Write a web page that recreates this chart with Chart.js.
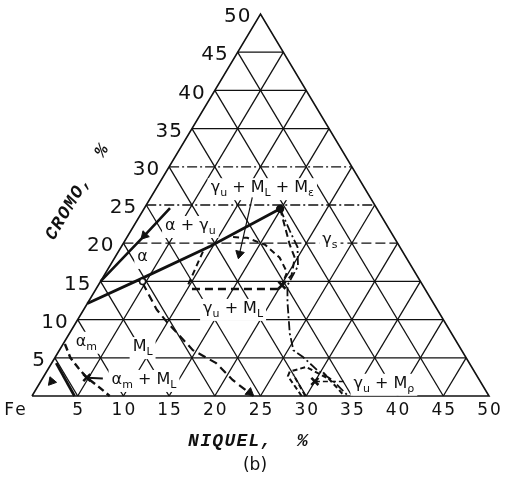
<!DOCTYPE html>
<html lang="es">
<head>
<meta charset="utf-8">
<title>Diagrama Fe-Cr-Ni</title>
<script src="https://cdn.jsdelivr.net/npm/chart.js@4.4.1/dist/chart.umd.min.js"></script>
<style>
  html, body { margin: 0; padding: 0; background: #fff; }
  #wrap { width: 508px; height: 481px; position: relative; }
</style>
</head>
<body>
<div id="wrap"><canvas id="diagrama"></canvas></div>
<script>
// Marcas de los ejes (% en peso)
const marcasNiquel = [5, 10, 15, 20, 25, 30, 35, 40, 45, 50];
const marcasCromo = [5, 10, 15, 20, 25, 30, 35, 40, 45, 50];
// Red triangular cada 5 %
const red = [5, 10, 15, 20, 25, 30, 35, 40, 45];
const redDiscontinua = [20, 25, 30];

// Límites de fase, pares [Ni, Cr]
const limiteAlfa = [[0, 15], [1.8, 21], [2.8, 24.6]];
const limiteGamma = [[0, 12.1], [4.2, 15.3], [9.7, 19.6], [14.9, 24.5]];
const limiteML = [[4.7, 14.8], [8, 11.3], [9.9, 9.7], [14.6, 6], [18, 4.3], [20.9, 2.1], [24.2, 0]];
const lenteIzq = [[9.8, 14.6], [9.2, 19.3]];
const lenteInt = [[11.6, 20.8], [13.2, 20.7], [15.6, 19.8], [18.05, 18.1], [19.8, 16.2], [20.1, 14.5]];
const lenteExt = [[14.9, 24.5], [18.3, 19.8], [19.7, 18.1], [20.5, 15.8], [20.1, 14.5]];
const limiteInf = [[10.5, 14], [20.3, 14]];
const limiteGammaS = [[14.9, 24.5], [17.5, 21.5], [19.3, 19.5], [20.6, 17], [20.7, 14.5], [21.8, 12.3],
  [24.1, 8.2], [25.6, 6.0], [27.1, 5.1], [29.5, 3.4], [31.8, 2.1], [34.6, 0]];
const limiteAlfaM = [[0.5, 4.3], [4.65, 0]];
const limiteMs = [[0.2, 6.8], [1.7, 5.0], [3.2, 3.7], [4.8, 2.4], [6.7, 1.2], [8.5, 0]];
const zonaMp1 = [[29.5, 0], [26.7, 2.6], [26.6, 3.2], [28.1, 3.8], [31, 2.4]];
const zonaMp2 = [[29.9, 0], [27.2, 2.8]];
const zonaMp3 = [[30.3, 3.1], [33.8, 0.3]];
const guiaML = [[11.1, 26.0], [13.4, 18.6]];
const guiaAlfaM = [[4.8, 2.4], [6.6, 2.3]];
const guiaMp = [[30.0, 1.9], [33.4, 1.9]];

// Puntos singulares
const puntoFinal = [[14.9, 24.5]];
const puntoAbierto = [[4.6, 15.0]];
const cruces = [[20.1, 14.5], [4.8, 2.4], [30.0, 1.9]];
const flechas = [[1.8, 21], [13.4, 18.6], [23.6, 0.45], [1.2, 1.9]];

// coordenadas ternarias -> plano (x = Ni + Cr/2, y = Cr)
const tern = ([ni, cr]) => ({ x: ni + cr / 2, y: cr });

function linea(puntos, estilo) {
  return Object.assign({
    data: puntos.map(tern),
    showLine: true,
    borderColor: '#111',
    backgroundColor: '#111',
    borderWidth: 1.3,
    pointRadius: 0,
    fill: false,
    clip: false,
    order: 3
  }, estilo);
}

const conjuntos = [];

// contorno y red
conjuntos.push(linea([[0, 0], [50, 0], [0, 50], [0, 0]], { borderWidth: 1.6 }));
red.forEach(c => {
  const estilo = redDiscontinua.includes(c) ? { borderDash: c === 20 ? [10, 4] : [10, 3, 2, 3] } : {};
  conjuntos.push(linea([[0, c], [50 - c, c]], estilo));
});
red.forEach(n => conjuntos.push(linea([[n, 0], [n, 50 - n]])));
red.forEach(s => conjuntos.push(linea([[s, 0], [0, s]])));

// capa de rótulos (fondo blanco sobre la red)
conjuntos.push({ data: [], capaRotulos: true, order: 2 });

// límites de fase
const fase = { order: 1 };
conjuntos.push(linea(limiteAlfa, { ...fase, borderWidth: 2.6 }));
conjuntos.push(linea(limiteGamma, { ...fase, borderWidth: 2.8 }));
conjuntos.push(linea(limiteML, { ...fase, borderWidth: 2.2, borderDash: [8, 5] }));
conjuntos.push(linea(lenteIzq, { ...fase, borderWidth: 2, borderDash: [6, 4] }));
conjuntos.push(linea(lenteInt, { ...fase, borderWidth: 2, borderDash: [6, 4] }));
conjuntos.push(linea(lenteExt, { ...fase, borderWidth: 2, borderDash: [7, 4] }));
conjuntos.push(linea(limiteInf, { ...fase, borderWidth: 2.4, borderDash: [8, 5] }));
conjuntos.push(linea(limiteGammaS, { ...fase, borderWidth: 1.8, borderDash: [9, 3, 2, 3] }));
conjuntos.push(linea(limiteAlfaM, { ...fase, borderWidth: 2.8 }));
conjuntos.push(linea(limiteMs, { ...fase, borderWidth: 2.4, borderDash: [7, 4] }));
conjuntos.push(linea(zonaMp1, { ...fase, borderWidth: 2, borderDash: [5, 3] }));
conjuntos.push(linea(zonaMp2, { ...fase, borderWidth: 2, borderDash: [5, 3] }));
conjuntos.push(linea(zonaMp3, { ...fase, borderWidth: 2, borderDash: [5, 3] }));
conjuntos.push(linea(guiaML, { ...fase, borderWidth: 1.2 }));
conjuntos.push(linea(guiaAlfaM, { ...fase, borderWidth: 2 }));
conjuntos.push(linea(guiaMp, { ...fase, borderWidth: 1.6, borderDash: [5, 3] }));

// marcadores
const marca = { showLine: false, order: 0 };
conjuntos.push(linea(puntoFinal, { ...marca, pointRadius: 3.5, pointStyle: 'circle' }));
conjuntos.push(linea(puntoAbierto, { ...marca, pointRadius: 3, pointStyle: 'circle', backgroundColor: '#fff', borderWidth: 1.5 }));
conjuntos.push(linea(cruces, { ...marca, pointRadius: 5, pointStyle: 'crossRot', borderWidth: 2.6 }));
conjuntos.push(linea(flechas, { ...marca, pointRadius: 5, pointStyle: 'triangle', borderWidth: 1, pointRotation: [223, 193, 129, 220] }));

const FUENTE = '16px "DejaVu Sans"';
const FUENTE_SUB = '11px "DejaVu Sans"';

const rotulos = [
  { pos: [11.6, 27.2], partes: [['γ'], ['u', 1], [' + M'], ['L', 1], [' + M'], ['ε', 1]] },
  { pos: [6.2, 22.25], partes: [['α'], [' + '], ['γ'], ['u', 1]] },
  { pos: [3.0, 18.2], partes: [['α']] },
  { pos: [22.4, 20.4], partes: [['γ'], ['s', 1]] },
  { pos: [16.3, 11.4], partes: [['γ'], ['u', 1], [' + M'], ['L', 1]] },
  { pos: [2.4, 7.1], partes: [['α'], ['m', 1]] },
  { pos: [8.9, 6.4], partes: [['M'], ['L', 1]] },
  { pos: [11.2, 2.1], partes: [['α'], ['m', 1], [' + M'], ['L', 1]] },
  { pos: [37.7, 1.6], partes: [['γ'], ['u', 1], [' + M'], ['ρ', 1]] }
];

function textoRico(ctx, partes, cx, cy) {
  let ancho = 0;
  partes.forEach(([t, sub]) => {
    ctx.font = sub ? FUENTE_SUB : FUENTE;
    ancho += ctx.measureText(t).width;
  });
  let x0 = cx - ancho / 2;
  ctx.fillStyle = '#fff';
  ctx.fillRect(x0 - 3, cy - 10, ancho + 6, 22);
  ctx.fillStyle = '#111';
  ctx.textAlign = 'left';
  ctx.textBaseline = 'middle';
  partes.forEach(([t, sub]) => {
    ctx.font = sub ? FUENTE_SUB : FUENTE;
    ctx.fillText(t, x0, sub ? cy + 5 : cy);
    x0 += ctx.measureText(t).width;
  });
}

const textos = {
  id: 'textos',
  beforeDatasetDraw(chart, args) {
    if (!chart.data.datasets[args.index].capaRotulos) return;
    const { ctx, scales: { x, y } } = chart;
    ctx.save();
    rotulos.forEach(r => {
      const p = tern(r.pos);
      textoRico(ctx, r.partes, x.getPixelForValue(p.x), y.getPixelForValue(p.y));
    });
    ctx.restore();
  },
  afterDraw(chart) {
    const { ctx, scales: { x, y } } = chart;
    const base = y.getPixelForValue(0);
    ctx.save();
    ctx.fillStyle = '#111';
    ctx.textBaseline = 'middle';

    // escala de níquel
    ctx.font = '17px "DejaVu Sans"';
    ctx.letterSpacing = '2px';
    ctx.textAlign = 'center';
    ctx.fillText('Fe', x.getPixelForValue(-1.86) + 1, base + 15);
    marcasNiquel.forEach(n => ctx.fillText(String(n), x.getPixelForValue(n) + 1, base + 15));

    // escala de cromo sobre el lado izquierdo
    ctx.font = '20px "DejaVu Sans"';
    ctx.letterSpacing = '1px';
    ctx.textAlign = 'right';
    marcasCromo.forEach(c => {
      const p = tern([0, c]);
      ctx.fillText(String(c), x.getPixelForValue(p.x) - 9, y.getPixelForValue(p.y) + 3);
    });

    // títulos de los ejes
    ctx.font = 'italic bold 18px "Liberation Mono"';
    ctx.letterSpacing = '1.3px';
    ctx.textAlign = 'center';
    ctx.fillText('NIQUEL,  %', x.getPixelForValue(23.7), base + 45);

    const ang = Math.atan2(y.getPixelForValue(50) - base, x.getPixelForValue(25) - x.getPixelForValue(0));
    ctx.save();
    ctx.translate(x.getPixelForValue(5.0), y.getPixelForValue(26.7));
    ctx.rotate(ang);
    ctx.fillText('CROMO,  %', 0, 0);
    ctx.restore();

    ctx.font = '17px "DejaVu Sans"';
    ctx.letterSpacing = '0px';
    ctx.fillText('(b)', x.getPixelForValue(24.4), base + 70);
    ctx.restore();
  }
};

new Chart(document.getElementById('diagrama'), {
  type: 'scatter',
  data: { datasets: conjuntos },
  options: {
    responsive: true,
    maintainAspectRatio: false,
    animation: false,
    events: [],
    layout: { padding: { left: 32, right: 19, top: 14, bottom: 85 } },
    scales: {
      x: { type: 'linear', min: 0, max: 50, display: false },
      y: { type: 'linear', min: 0, max: 50, display: false }
    },
    plugins: { legend: { display: false }, tooltip: { enabled: false } },
    elements: { line: { tension: 0 } }
  },
  plugins: [textos]
});
</script>
</body>
</html>
